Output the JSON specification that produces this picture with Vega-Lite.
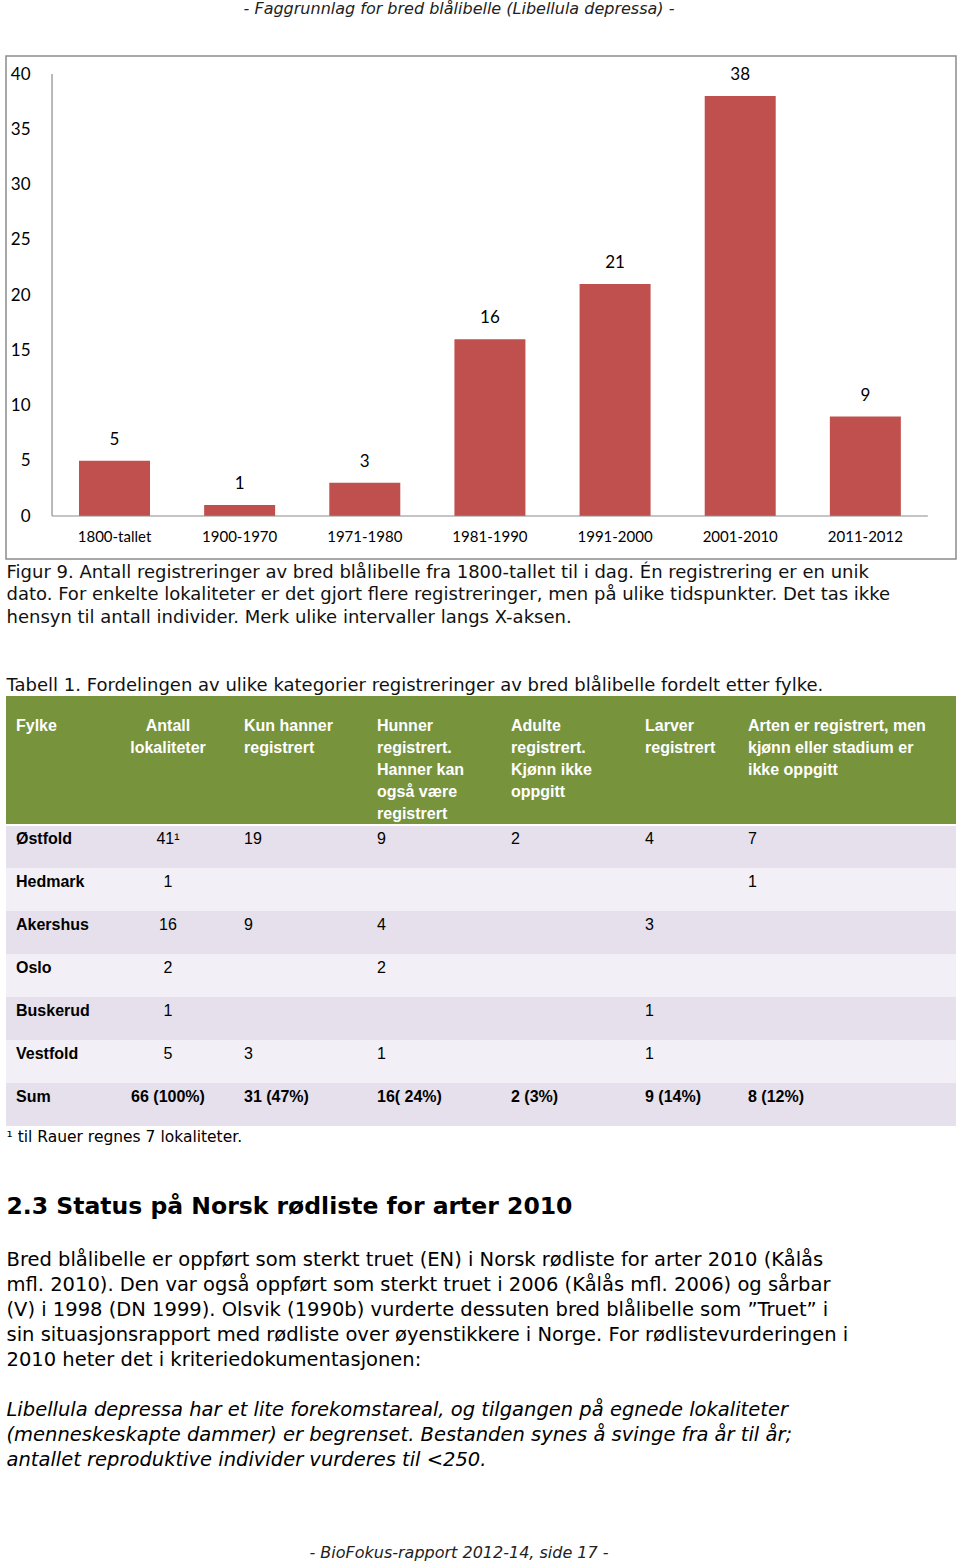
{
  "$schema": "https://vega.github.io/schema/vega-lite/v6.json",
  "padding": {"left": 5, "right": 5, "top": 0, "bottom": 0},
  "spacing": 0,
  "background": "#ffffff",
  "config": {"view": {"stroke": null}, "font": "Liberation Sans", "concat": {"spacing": 0}},
  "datasets": {
    "reg": [
      {"periode": "1800-tallet", "antall": 5},
      {"periode": "1900-1970", "antall": 1},
      {"periode": "1971-1980", "antall": 3},
      {"periode": "1981-1990", "antall": 16},
      {"periode": "1991-2000", "antall": 21},
      {"periode": "2001-2010", "antall": 38},
      {"periode": "2011-2012", "antall": 9}
    ],
    "table": [
      {"row": "h1", "fylke": "Fylke", "antall": "Antall\nlokaliteter", "kun": "Kun hanner\nregistrert", "hunner": "Hunner\nregistrert.\nHanner kan\nogså være\nregistrert", "adulte": "Adulte\nregistrert.\nKjønn ikke\noppgitt", "larver": "Larver\nregistrert", "arten": "Arten er registrert, men\nkjønn eller stadium er\nikke oppgitt"},
      {"row": "h2", "fylke": "", "antall": "", "kun": "", "hunner": "", "adulte": "", "larver": "", "arten": ""},
      {"row": "h3", "fylke": "", "antall": "", "kun": "", "hunner": "", "adulte": "", "larver": "", "arten": ""},
      {"row": "Østfold", "fylke": "Østfold", "antall": "41¹", "kun": "19", "hunner": "9", "adulte": "2", "larver": "4", "arten": "7"},
      {"row": "Hedmark", "fylke": "Hedmark", "antall": "1", "kun": "", "hunner": "", "adulte": "", "larver": "", "arten": "1"},
      {"row": "Akershus", "fylke": "Akershus", "antall": "16", "kun": "9", "hunner": "4", "adulte": "", "larver": "3", "arten": ""},
      {"row": "Oslo", "fylke": "Oslo", "antall": "2", "kun": "", "hunner": "2", "adulte": "", "larver": "", "arten": ""},
      {"row": "Buskerud", "fylke": "Buskerud", "antall": "1", "kun": "", "hunner": "", "adulte": "", "larver": "1", "arten": ""},
      {"row": "Vestfold", "fylke": "Vestfold", "antall": "5", "kun": "3", "hunner": "1", "adulte": "", "larver": "1", "arten": ""},
      {"row": "Sum", "fylke": "Sum", "antall": "66 (100%)", "kun": "31 (47%)", "hunner": "16( 24%)", "adulte": "2 (3%)", "larver": "9 (14%)", "arten": "8 (12%)"}
    ]
  },
  "vconcat": [
    {
      "width": 950, "height": 55,
      "data": {"values": [{"i": 0, "t": "- Faggrunnlag for bred blålibelle (Libellula depressa) -"}, {"i": 1, "t": ""}, {"i": 2, "t": ""}]},
      "mark": {"type": "text", "font": "DejaVu Sans", "fontStyle": "italic", "fontSize": 16, "dx": -22, "color": "#222"},
      "encoding": {
        "y": {"field": "i", "type": "ordinal", "scale": {"domain": [0, 1, 2], "paddingInner": 0, "paddingOuter": 0}, "axis": null},
        "text": {"field": "t"}
      }
    },
    {
      "width": 950, "height": 503,
      "view": {"stroke": "#8c8c8c", "strokeWidth": 1.5},
      "data": {"name": "reg"},
      "layer": [
        {
          "mark": {"type": "bar", "color": "#C0504D"},
          "encoding": {
            "x": {"field": "periode", "type": "nominal",
              "scale": {"domain": ["1800-tallet", "1900-1970", "1971-1980", "1981-1990", "1991-2000", "2001-2010", "2011-2012"], "paddingInner": 0.4326, "paddingOuter": 0.512, "align": 0.5697},
              "axis": {"orient": "bottom", "offset": -43, "labelPadding": 13, "domain": false, "ticks": false, "tickSize": 0, "grid": false, "labelAngle": 0, "labelFont": "Lato", "labelFontSize": 15, "labelColor": "#000", "title": null}},
            "y": {"field": "antall", "type": "quantitative",
              "scale": {"domain": [-3.891, 41.629], "nice": false, "zero": false},
              "axis": {"orient": "left", "offset": -46, "values": [0, 5, 10, 15, 20, 25, 30, 35, 40], "labelPadding": 22, "domain": false, "ticks": false, "tickSize": 0, "grid": false, "labelFont": "Lato", "labelFontSize": 17, "labelColor": "#000", "title": null}},
            "y2": {"datum": 0}
          }
        },
        {
          "mark": {"type": "text", "baseline": "bottom", "dy": -12, "font": "Lato", "fontSize": 17, "color": "#000"},
          "encoding": {
            "x": {"field": "periode", "type": "nominal"},
            "y": {"field": "antall", "type": "quantitative"},
            "text": {"field": "antall", "type": "quantitative"}
          }
        },
        {
          "data": {"values": [{}]},
          "mark": {"type": "rule", "color": "#8c8c8c", "strokeWidth": 1.2},
          "encoding": {
            "x": {"datum": "1800-tallet", "type": "nominal", "bandPosition": -0.38},
            "y": {"datum": 0, "type": "quantitative"},
            "y2": {"datum": 40}
          }
        },
        {
          "data": {"values": [{}]},
          "mark": {"type": "rule", "color": "#8c8c8c", "strokeWidth": 1.2},
          "encoding": {
            "x": {"datum": "1800-tallet", "type": "nominal", "bandPosition": -0.38},
            "x2": {"datum": "2011-2012", "bandPosition": 1.38},
            "y": {"datum": 0, "type": "quantitative"}
          }
        }
      ]
    },
    {
      "width": 1, "height": 135.6,
      "data": {"values": [
        {"i": 0, "t": "Figur 9. Antall registreringer av bred blålibelle fra 1800-tallet til i dag. Én registrering er en unik"},
        {"i": 1, "t": "dato. For enkelte lokaliteter er det gjort flere registreringer, men på ulike tidspunkter. Det tas ikke"},
        {"i": 2, "t": "hensyn til antall individer. Merk ulike intervaller langs X-aksen."},
        {"i": 3, "t": ""},
        {"i": 4, "t": ""},
        {"i": 5, "t": "Tabell 1. Fordelingen av ulike kategorier registreringer av bred blålibelle fordelt etter fylke."}
      ]},
      "mark": {"type": "text", "align": "left", "font": "DejaVu Sans", "fontSize": 18, "dy": 1.5, "color": "#111"},
      "encoding": {
        "y": {"field": "i", "type": "ordinal", "scale": {"domain": [0, 1, 2, 3, 4, 5], "paddingInner": 0, "paddingOuter": 0}, "axis": null},
        "text": {"field": "t"}
      }
    },
    {
      "bounds": "flush",
      "spacing": 0,
      "hconcat": [
        {
          "width": 100, "height": 430, "data": {"name": "table"},
          "layer": [
            {"mark": {"type": "rect"}, "encoding": {"x": {"datum": 0, "type": "quantitative", "scale": {"domain": [0, 1], "nice": false, "zero": false}, "axis": null}, "x2": {"datum": 1}, "y": {"field": "row", "type": "nominal", "scale": {"domain": ["h1", "h2", "h3", "Østfold", "Hedmark", "Akershus", "Oslo", "Buskerud", "Vestfold", "Sum"], "paddingInner": 0, "paddingOuter": 0}, "axis": null}, "fill": {"field": "row", "type": "nominal", "scale": {"domain": ["h1", "h2", "h3", "Østfold", "Hedmark", "Akershus", "Oslo", "Buskerud", "Vestfold", "Sum"], "range": ["#77933C", "#77933C", "#77933C", "#E5E0EC", "#F2F0F6", "#E5E0EC", "#F2F0F6", "#E5E0EC", "#F2F0F6", "#E5E0EC"]}, "legend": null}}},
            {"data": {"values": [{}]}, "mark": {"type": "rule", "color": "#ffffff", "strokeWidth": 2}, "encoding": {"x": {"datum": 0, "type": "quantitative"}, "x2": {"datum": 1}, "y": {"datum": "Østfold", "type": "nominal", "bandPosition": 0}}},
            {"transform": [{"filter": "datum.row == 'h1'"}], "mark": {"type": "text", "align": "left", "baseline": "top", "dx": 10, "lineBreak": "\n", "lineHeight": 22, "fontSize": 16, "fontWeight": "bold", "color": "#ffffff"}, "encoding": {"x": {"datum": 0, "type": "quantitative"}, "y": {"field": "row", "type": "nominal"}, "text": {"field": "fylke"}}},
            {"transform": [{"filter": "datum.row != 'h1'"}], "mark": {"type": "text", "align": "left", "baseline": "top", "dx": 10, "dy": -15.5, "fontSize": 16, "fontWeight": "bold", "color": "#000"}, "encoding": {"x": {"datum": 0, "type": "quantitative"}, "y": {"field": "row", "type": "nominal"}, "text": {"field": "fylke"}}}
          ]
        },
        {
          "width": 128, "height": 430, "data": {"name": "table"},
          "layer": [
            {"mark": {"type": "rect"}, "encoding": {"x": {"datum": 0, "type": "quantitative", "scale": {"domain": [0, 1], "nice": false, "zero": false}, "axis": null}, "x2": {"datum": 1}, "y": {"field": "row", "type": "nominal", "scale": {"domain": ["h1", "h2", "h3", "Østfold", "Hedmark", "Akershus", "Oslo", "Buskerud", "Vestfold", "Sum"], "paddingInner": 0, "paddingOuter": 0}, "axis": null}, "fill": {"field": "row", "type": "nominal", "scale": {"domain": ["h1", "h2", "h3", "Østfold", "Hedmark", "Akershus", "Oslo", "Buskerud", "Vestfold", "Sum"], "range": ["#77933C", "#77933C", "#77933C", "#E5E0EC", "#F2F0F6", "#E5E0EC", "#F2F0F6", "#E5E0EC", "#F2F0F6", "#E5E0EC"]}, "legend": null}}},
            {"data": {"values": [{}]}, "mark": {"type": "rule", "color": "#ffffff", "strokeWidth": 2}, "encoding": {"x": {"datum": 0, "type": "quantitative"}, "x2": {"datum": 1}, "y": {"datum": "Østfold", "type": "nominal", "bandPosition": 0}}},
            {"transform": [{"filter": "datum.row == 'h1'"}], "mark": {"type": "text", "align": "center", "baseline": "top", "dx": -2, "lineBreak": "\n", "lineHeight": 22, "fontSize": 16, "fontWeight": "bold", "color": "#ffffff"}, "encoding": {"x": {"datum": 0.5, "type": "quantitative"}, "y": {"field": "row", "type": "nominal"}, "text": {"field": "antall"}}},
            {"transform": [{"filter": "datum.row != 'h1' && datum.row != 'Sum'"}], "mark": {"type": "text", "align": "center", "baseline": "top", "dx": -2, "dy": -15.5, "fontSize": 16, "color": "#000"}, "encoding": {"x": {"datum": 0.5, "type": "quantitative"}, "y": {"field": "row", "type": "nominal"}, "text": {"field": "antall"}}},
            {"transform": [{"filter": "datum.row == 'Sum'"}], "mark": {"type": "text", "align": "center", "baseline": "top", "dx": -2, "dy": -15.5, "fontSize": 16, "fontWeight": "bold", "color": "#000"}, "encoding": {"x": {"datum": 0.5, "type": "quantitative"}, "y": {"field": "row", "type": "nominal"}, "text": {"field": "antall"}}}
          ]
        },
        {
          "width": 133, "height": 430, "data": {"name": "table"},
          "layer": [
            {"mark": {"type": "rect"}, "encoding": {"x": {"datum": 0, "type": "quantitative", "scale": {"domain": [0, 1], "nice": false, "zero": false}, "axis": null}, "x2": {"datum": 1}, "y": {"field": "row", "type": "nominal", "scale": {"domain": ["h1", "h2", "h3", "Østfold", "Hedmark", "Akershus", "Oslo", "Buskerud", "Vestfold", "Sum"], "paddingInner": 0, "paddingOuter": 0}, "axis": null}, "fill": {"field": "row", "type": "nominal", "scale": {"domain": ["h1", "h2", "h3", "Østfold", "Hedmark", "Akershus", "Oslo", "Buskerud", "Vestfold", "Sum"], "range": ["#77933C", "#77933C", "#77933C", "#E5E0EC", "#F2F0F6", "#E5E0EC", "#F2F0F6", "#E5E0EC", "#F2F0F6", "#E5E0EC"]}, "legend": null}}},
            {"data": {"values": [{}]}, "mark": {"type": "rule", "color": "#ffffff", "strokeWidth": 2}, "encoding": {"x": {"datum": 0, "type": "quantitative"}, "x2": {"datum": 1}, "y": {"datum": "Østfold", "type": "nominal", "bandPosition": 0}}},
            {"transform": [{"filter": "datum.row == 'h1'"}], "mark": {"type": "text", "align": "left", "baseline": "top", "dx": 10, "lineBreak": "\n", "lineHeight": 22, "fontSize": 16, "fontWeight": "bold", "color": "#ffffff"}, "encoding": {"x": {"datum": 0, "type": "quantitative"}, "y": {"field": "row", "type": "nominal"}, "text": {"field": "kun"}}},
            {"transform": [{"filter": "datum.row != 'h1' && datum.row != 'Sum'"}], "mark": {"type": "text", "align": "left", "baseline": "top", "dx": 10, "dy": -15.5, "fontSize": 16, "color": "#000"}, "encoding": {"x": {"datum": 0, "type": "quantitative"}, "y": {"field": "row", "type": "nominal"}, "text": {"field": "kun"}}},
            {"transform": [{"filter": "datum.row == 'Sum'"}], "mark": {"type": "text", "align": "left", "baseline": "top", "dx": 10, "dy": -15.5, "fontSize": 16, "fontWeight": "bold", "color": "#000"}, "encoding": {"x": {"datum": 0, "type": "quantitative"}, "y": {"field": "row", "type": "nominal"}, "text": {"field": "kun"}}}
          ]
        },
        {
          "width": 134, "height": 430, "data": {"name": "table"},
          "layer": [
            {"mark": {"type": "rect"}, "encoding": {"x": {"datum": 0, "type": "quantitative", "scale": {"domain": [0, 1], "nice": false, "zero": false}, "axis": null}, "x2": {"datum": 1}, "y": {"field": "row", "type": "nominal", "scale": {"domain": ["h1", "h2", "h3", "Østfold", "Hedmark", "Akershus", "Oslo", "Buskerud", "Vestfold", "Sum"], "paddingInner": 0, "paddingOuter": 0}, "axis": null}, "fill": {"field": "row", "type": "nominal", "scale": {"domain": ["h1", "h2", "h3", "Østfold", "Hedmark", "Akershus", "Oslo", "Buskerud", "Vestfold", "Sum"], "range": ["#77933C", "#77933C", "#77933C", "#E5E0EC", "#F2F0F6", "#E5E0EC", "#F2F0F6", "#E5E0EC", "#F2F0F6", "#E5E0EC"]}, "legend": null}}},
            {"data": {"values": [{}]}, "mark": {"type": "rule", "color": "#ffffff", "strokeWidth": 2}, "encoding": {"x": {"datum": 0, "type": "quantitative"}, "x2": {"datum": 1}, "y": {"datum": "Østfold", "type": "nominal", "bandPosition": 0}}},
            {"transform": [{"filter": "datum.row == 'h1'"}], "mark": {"type": "text", "align": "left", "baseline": "top", "dx": 10, "lineBreak": "\n", "lineHeight": 22, "fontSize": 16, "fontWeight": "bold", "color": "#ffffff"}, "encoding": {"x": {"datum": 0, "type": "quantitative"}, "y": {"field": "row", "type": "nominal"}, "text": {"field": "hunner"}}},
            {"transform": [{"filter": "datum.row != 'h1' && datum.row != 'Sum'"}], "mark": {"type": "text", "align": "left", "baseline": "top", "dx": 10, "dy": -15.5, "fontSize": 16, "color": "#000"}, "encoding": {"x": {"datum": 0, "type": "quantitative"}, "y": {"field": "row", "type": "nominal"}, "text": {"field": "hunner"}}},
            {"transform": [{"filter": "datum.row == 'Sum'"}], "mark": {"type": "text", "align": "left", "baseline": "top", "dx": 10, "dy": -15.5, "fontSize": 16, "fontWeight": "bold", "color": "#000"}, "encoding": {"x": {"datum": 0, "type": "quantitative"}, "y": {"field": "row", "type": "nominal"}, "text": {"field": "hunner"}}}
          ]
        },
        {
          "width": 134, "height": 430, "data": {"name": "table"},
          "layer": [
            {"mark": {"type": "rect"}, "encoding": {"x": {"datum": 0, "type": "quantitative", "scale": {"domain": [0, 1], "nice": false, "zero": false}, "axis": null}, "x2": {"datum": 1}, "y": {"field": "row", "type": "nominal", "scale": {"domain": ["h1", "h2", "h3", "Østfold", "Hedmark", "Akershus", "Oslo", "Buskerud", "Vestfold", "Sum"], "paddingInner": 0, "paddingOuter": 0}, "axis": null}, "fill": {"field": "row", "type": "nominal", "scale": {"domain": ["h1", "h2", "h3", "Østfold", "Hedmark", "Akershus", "Oslo", "Buskerud", "Vestfold", "Sum"], "range": ["#77933C", "#77933C", "#77933C", "#E5E0EC", "#F2F0F6", "#E5E0EC", "#F2F0F6", "#E5E0EC", "#F2F0F6", "#E5E0EC"]}, "legend": null}}},
            {"data": {"values": [{}]}, "mark": {"type": "rule", "color": "#ffffff", "strokeWidth": 2}, "encoding": {"x": {"datum": 0, "type": "quantitative"}, "x2": {"datum": 1}, "y": {"datum": "Østfold", "type": "nominal", "bandPosition": 0}}},
            {"transform": [{"filter": "datum.row == 'h1'"}], "mark": {"type": "text", "align": "left", "baseline": "top", "dx": 10, "lineBreak": "\n", "lineHeight": 22, "fontSize": 16, "fontWeight": "bold", "color": "#ffffff"}, "encoding": {"x": {"datum": 0, "type": "quantitative"}, "y": {"field": "row", "type": "nominal"}, "text": {"field": "adulte"}}},
            {"transform": [{"filter": "datum.row != 'h1' && datum.row != 'Sum'"}], "mark": {"type": "text", "align": "left", "baseline": "top", "dx": 10, "dy": -15.5, "fontSize": 16, "color": "#000"}, "encoding": {"x": {"datum": 0, "type": "quantitative"}, "y": {"field": "row", "type": "nominal"}, "text": {"field": "adulte"}}},
            {"transform": [{"filter": "datum.row == 'Sum'"}], "mark": {"type": "text", "align": "left", "baseline": "top", "dx": 10, "dy": -15.5, "fontSize": 16, "fontWeight": "bold", "color": "#000"}, "encoding": {"x": {"datum": 0, "type": "quantitative"}, "y": {"field": "row", "type": "nominal"}, "text": {"field": "adulte"}}}
          ]
        },
        {
          "width": 103, "height": 430, "data": {"name": "table"},
          "layer": [
            {"mark": {"type": "rect"}, "encoding": {"x": {"datum": 0, "type": "quantitative", "scale": {"domain": [0, 1], "nice": false, "zero": false}, "axis": null}, "x2": {"datum": 1}, "y": {"field": "row", "type": "nominal", "scale": {"domain": ["h1", "h2", "h3", "Østfold", "Hedmark", "Akershus", "Oslo", "Buskerud", "Vestfold", "Sum"], "paddingInner": 0, "paddingOuter": 0}, "axis": null}, "fill": {"field": "row", "type": "nominal", "scale": {"domain": ["h1", "h2", "h3", "Østfold", "Hedmark", "Akershus", "Oslo", "Buskerud", "Vestfold", "Sum"], "range": ["#77933C", "#77933C", "#77933C", "#E5E0EC", "#F2F0F6", "#E5E0EC", "#F2F0F6", "#E5E0EC", "#F2F0F6", "#E5E0EC"]}, "legend": null}}},
            {"data": {"values": [{}]}, "mark": {"type": "rule", "color": "#ffffff", "strokeWidth": 2}, "encoding": {"x": {"datum": 0, "type": "quantitative"}, "x2": {"datum": 1}, "y": {"datum": "Østfold", "type": "nominal", "bandPosition": 0}}},
            {"transform": [{"filter": "datum.row == 'h1'"}], "mark": {"type": "text", "align": "left", "baseline": "top", "dx": 10, "lineBreak": "\n", "lineHeight": 22, "fontSize": 16, "fontWeight": "bold", "color": "#ffffff"}, "encoding": {"x": {"datum": 0, "type": "quantitative"}, "y": {"field": "row", "type": "nominal"}, "text": {"field": "larver"}}},
            {"transform": [{"filter": "datum.row != 'h1' && datum.row != 'Sum'"}], "mark": {"type": "text", "align": "left", "baseline": "top", "dx": 10, "dy": -15.5, "fontSize": 16, "color": "#000"}, "encoding": {"x": {"datum": 0, "type": "quantitative"}, "y": {"field": "row", "type": "nominal"}, "text": {"field": "larver"}}},
            {"transform": [{"filter": "datum.row == 'Sum'"}], "mark": {"type": "text", "align": "left", "baseline": "top", "dx": 10, "dy": -15.5, "fontSize": 16, "fontWeight": "bold", "color": "#000"}, "encoding": {"x": {"datum": 0, "type": "quantitative"}, "y": {"field": "row", "type": "nominal"}, "text": {"field": "larver"}}}
          ]
        },
        {
          "width": 218, "height": 430, "data": {"name": "table"},
          "layer": [
            {"mark": {"type": "rect"}, "encoding": {"x": {"datum": 0, "type": "quantitative", "scale": {"domain": [0, 1], "nice": false, "zero": false}, "axis": null}, "x2": {"datum": 1}, "y": {"field": "row", "type": "nominal", "scale": {"domain": ["h1", "h2", "h3", "Østfold", "Hedmark", "Akershus", "Oslo", "Buskerud", "Vestfold", "Sum"], "paddingInner": 0, "paddingOuter": 0}, "axis": null}, "fill": {"field": "row", "type": "nominal", "scale": {"domain": ["h1", "h2", "h3", "Østfold", "Hedmark", "Akershus", "Oslo", "Buskerud", "Vestfold", "Sum"], "range": ["#77933C", "#77933C", "#77933C", "#E5E0EC", "#F2F0F6", "#E5E0EC", "#F2F0F6", "#E5E0EC", "#F2F0F6", "#E5E0EC"]}, "legend": null}}},
            {"data": {"values": [{}]}, "mark": {"type": "rule", "color": "#ffffff", "strokeWidth": 2}, "encoding": {"x": {"datum": 0, "type": "quantitative"}, "x2": {"datum": 1}, "y": {"datum": "Østfold", "type": "nominal", "bandPosition": 0}}},
            {"transform": [{"filter": "datum.row == 'h1'"}], "mark": {"type": "text", "align": "left", "baseline": "top", "dx": 10, "lineBreak": "\n", "lineHeight": 22, "fontSize": 16, "fontWeight": "bold", "color": "#ffffff"}, "encoding": {"x": {"datum": 0, "type": "quantitative"}, "y": {"field": "row", "type": "nominal"}, "text": {"field": "arten"}}},
            {"transform": [{"filter": "datum.row != 'h1' && datum.row != 'Sum'"}], "mark": {"type": "text", "align": "left", "baseline": "top", "dx": 10, "dy": -15.5, "fontSize": 16, "color": "#000"}, "encoding": {"x": {"datum": 0, "type": "quantitative"}, "y": {"field": "row", "type": "nominal"}, "text": {"field": "arten"}}},
            {"transform": [{"filter": "datum.row == 'Sum'"}], "mark": {"type": "text", "align": "left", "baseline": "top", "dx": 10, "dy": -15.5, "fontSize": 16, "fontWeight": "bold", "color": "#000"}, "encoding": {"x": {"datum": 0, "type": "quantitative"}, "y": {"field": "row", "type": "nominal"}, "text": {"field": "arten"}}}
          ]
        }
      ]
    },
    {
      "width": 1, "height": 350,
      "data": {"values": [
        {"i": 0, "kind": "foot", "t": "¹ til Rauer regnes 7 lokaliteter."},
        {"i": 3, "kind": "head", "t": "2.3  Status på Norsk rødliste for arter 2010"},
        {"i": 5, "kind": "para", "t": "Bred blålibelle er oppført som sterkt truet (EN) i Norsk rødliste for arter 2010 (Kålås"},
        {"i": 6, "kind": "para", "t": "mfl. 2010). Den var også oppført som sterkt truet i 2006 (Kålås mfl. 2006) og sårbar"},
        {"i": 7, "kind": "para", "t": "(V) i 1998 (DN 1999). Olsvik (1990b) vurderte dessuten bred blålibelle som ”Truet” i"},
        {"i": 8, "kind": "para", "t": "sin situasjonsrapport med rødliste over øyenstikkere i Norge. For rødlistevurderingen i"},
        {"i": 9, "kind": "para", "t": "2010 heter det i kriteriedokumentasjonen:"},
        {"i": 11, "kind": "ital", "t": "Libellula depressa har et lite forekomstareal, og tilgangen på egnede lokaliteter"},
        {"i": 12, "kind": "ital", "t": "(menneskeskapte dammer) er begrenset. Bestanden synes å svinge fra år til år;"},
        {"i": 13, "kind": "ital", "t": "antallet reproduktive individer vurderes til <250."}
      ]},
      "layer": [
        {"transform": [{"filter": "datum.kind == 'foot'"}], "mark": {"type": "text", "align": "left", "font": "DejaVu Sans", "fontSize": 15.5, "dy": -2, "color": "#000"}, "encoding": {"y": {"field": "i", "type": "ordinal", "scale": {"domain": [0, 1, 2, 3, 4, 5, 6, 7, 8, 9, 10, 11, 12, 13], "paddingInner": 0, "paddingOuter": 0}, "axis": null}, "text": {"field": "t"}}},
        {"transform": [{"filter": "datum.kind == 'head'"}], "mark": {"type": "text", "align": "left", "font": "DejaVu Sans", "fontSize": 23.5, "fontWeight": "bold", "dy": -7, "color": "#000"}, "encoding": {"y": {"field": "i", "type": "ordinal", "scale": {"domain": [0, 1, 2, 3, 4, 5, 6, 7, 8, 9, 10, 11, 12, 13], "paddingInner": 0, "paddingOuter": 0}, "axis": null}, "text": {"field": "t"}}},
        {"transform": [{"filter": "datum.kind == 'para'"}], "mark": {"type": "text", "align": "left", "font": "DejaVu Sans", "fontSize": 19.5, "dy": -4, "color": "#000"}, "encoding": {"y": {"field": "i", "type": "ordinal", "scale": {"domain": [0, 1, 2, 3, 4, 5, 6, 7, 8, 9, 10, 11, 12, 13], "paddingInner": 0, "paddingOuter": 0}, "axis": null}, "text": {"field": "t"}}},
        {"transform": [{"filter": "datum.kind == 'ital'"}], "mark": {"type": "text", "align": "left", "font": "DejaVu Sans", "fontSize": 19.5, "fontStyle": "italic", "dy": -4, "color": "#000"}, "encoding": {"y": {"field": "i", "type": "ordinal", "scale": {"domain": [0, 1, 2, 3, 4, 5, 6, 7, 8, 9, 10, 11, 12, 13], "paddingInner": 0, "paddingOuter": 0}, "axis": null}, "text": {"field": "t"}}}
      ]
    },
    {
      "width": 950, "height": 88,
      "data": {"values": [{"i": 3, "t": "- BioFokus-rapport 2012-14, side 17 -"}]},
      "mark": {"type": "text", "font": "DejaVu Sans", "fontStyle": "italic", "fontSize": 16, "dx": -22, "color": "#222"},
      "encoding": {
        "y": {"field": "i", "type": "ordinal", "scale": {"domain": [0, 1, 2, 3], "paddingInner": 0, "paddingOuter": 0}, "axis": null},
        "text": {"field": "t"}
      }
    }
  ]
}
